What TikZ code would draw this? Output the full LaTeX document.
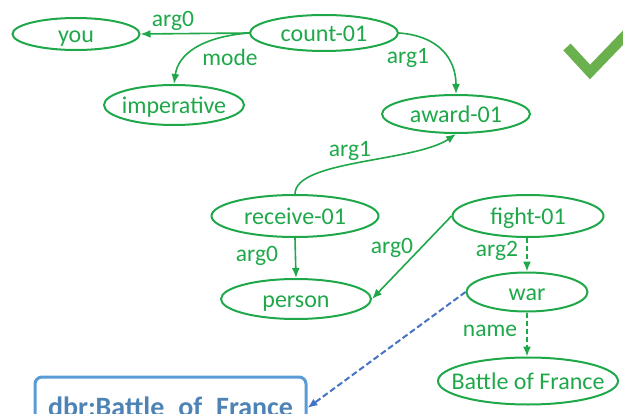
\documentclass[tikz,border=0pt]{standalone}
\usepackage{fontspec}
\setmainfont{Carlito}
\usetikzlibrary{shapes.geometric,arrows.meta}
\definecolor{amrgreen}{HTML}{1FA84A}
\definecolor{linkblue}{HTML}{4472C4}
\definecolor{boxblue}{HTML}{5B9BD5}
\definecolor{tickgreen}{HTML}{6AB04C}
\newcommand\ctext[1]{\makebox[0pt]{#1}}
\tikzset{
  concept/.style={ellipse, draw=amrgreen, line width=2pt, text=amrgreen,
    inner sep=0pt, font=\fontsize{24}{26}\selectfont,
    text height=18pt, text depth=1pt},
  rel/.style={draw=amrgreen, line width=1.6pt, -{Latex[length=10pt,width=8pt]}},
  optrel/.style={rel, dash pattern=on 5pt off 3pt},
  rellabel/.style={text=amrgreen, font=\fontsize{23.5}{26}\selectfont, inner sep=0pt},
  dbrbox/.style={draw=boxblue, line width=3pt, rounded corners=7pt,
    text=boxblue!85!black, font=\fontsize{28}{30}\selectfont\bfseries,
    inner sep=0pt, text height=18pt, text depth=1pt},
  linkrel/.style={draw=linkblue, line width=2pt, dash pattern=on 6pt off 3pt,
    -{Latex[length=10pt,width=8pt]}},
}
\begin{document}
\begin{tikzpicture}[x=1pt,y=-1pt]
\useasboundingbox (0,0) rectangle (623,414);
\clip (0,0) rectangle (623,414);

% concepts
\node[concept, minimum width=127pt, minimum height=32pt] (you) at (76,34) {\ctext{you}};
\node[concept, minimum width=148pt, minimum height=36pt] (count) at (324,33) {\ctext{count-01}};
\node[concept, minimum width=140pt, minimum height=40pt] (imp) at (174,105) {\ctext{imperative}};
\node[concept, minimum width=148pt, minimum height=38pt] (award) at (456,114) {\ctext{award-01}};
\node[concept, minimum width=167pt, minimum height=42pt] (receive) at (295,216) {\ctext{receive-01}};
\node[concept, minimum width=151pt, minimum height=42pt] (fight) at (528,216) {\ctext{fight-01}};
\node[concept, minimum width=150pt, minimum height=40pt] (person) at (296,299) {\ctext{person}};
\node[concept, minimum width=121pt, minimum height=39pt] (war) at (527,292) {\ctext{war}};
\node[concept, minimum width=180pt, minimum height=47pt] (bof) at (528,381) {\ctext{Battle of France}};

% linked resource
\node[dbrbox, minimum width=271pt, minimum height=62pt] (dbr) at (170.5,408) {\ctext{dbr:Battle\_of\_France}};

% relations
\draw[rel] (count.west) -- (you.east);
\draw[rel] (count.west) .. controls (200,37) and (178,55) .. (imp.north);
\draw[rel] (count.east) .. controls (440,36) and (456,60) .. (award.north);
\draw[rel] (receive.north) .. controls (295,160) and (415,162) .. (award.south);
\draw[rel] (receive.south) -- (person.north);
\draw[rel] (fight.west) -- (person.east);
\draw[optrel] (war.north |- fight.south) -- (war.north);
\draw[optrel] (war.south) -- (war.south |- bof.north);
\draw[linkrel] (war.west) -- (dbr.east);

% relation labels
\node[rellabel] (l1) at (173,21) {arg0};
\node[rellabel] (l2) at (230,57) {mode};
\node[rellabel] (l3) at (408,58) {arg1};
\node[rellabel] (l4) at (350,151) {arg1};
\node[rellabel] (l5) at (257,256) {arg0};
\node[rellabel] (l6) at (392,248) {arg0};
\node[rellabel] (l7) at (497,251) {arg2};
\node[rellabel] (l8) at (490,331) {name};

% check mark
\draw[tickgreen, line width=10pt] (567,47) -- (590,72) -- (640,20);
\end{tikzpicture}
\end{document}
